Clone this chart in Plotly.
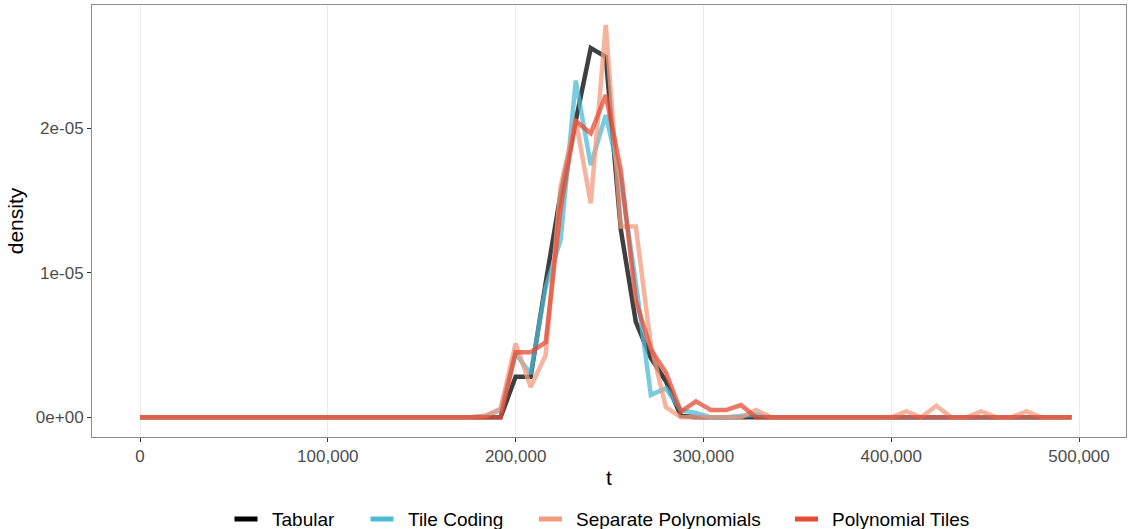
import numpy as np
import plotly.graph_objects as go

# Frequency-polygon densities over t (bin width 8,000), values in units of 1e-6
bin_width = 8000
t = np.arange(63) * bin_width

tabular = [0] * 25 + [2.8, 2.8, 9.3, 15.5, 20.5, 25.55, 24.95, 13.0, 6.6, 4.1, 2.5, 0.1] + [0] * 26

tile_coding = ([0] * 23 + [0.1, 0.5, 4.4, 3.0, 9.0, 12.3, 23.3, 17.45, 20.9, 16.4, 9.3,
                            1.55, 2.0, 0.5, 0.3, 0, 0, 0.1, 0.2] + [0] * 21)

separate_polynomials = ([0] * 23 + [0.1, 0.6, 5.1, 2.1, 4.3, 16.0, 20.6, 14.8, 27.15, 13.2, 13.2,
                                     5.0, 0.7, 0, 0, 0, 0, 0, 0.5, 0, 0, 0, 0, 0, 0, 0, 0, 0,
                                     0.4, 0, 0.8, 0, 0, 0.4, 0, 0, 0.4, 0, 0, 0])

polynomial_tiles = ([0] * 25 + [4.5, 4.5, 5.2, 14.5, 20.5, 19.65, 22.3, 17.1, 8.1, 4.7, 3.1,
                                 0.4, 1.1, 0.5, 0.5, 0.85] + [0] * 22)

series = [
    ("Tabular", tabular, "#000000"),
    ("Tile Coding", tile_coding, "#4DBBD5"),
    ("Separate Polynomials", separate_polynomials, "#F39B7F"),
    ("Polynomial Tiles", polynomial_tiles, "#E64B35"),
]

x_ticks = [0, 100000, 200000, 300000, 400000, 500000]
x_tick_text = ["0", "100,000", "200,000", "300,000", "400,000", "500,000"]
y_ticks = [0, 1e-5, 2e-5]
y_tick_text = ["0e+00", "1e-05", "2e-05"]

FONT = "Liberation Sans, Arial, sans-serif"
W, H = 1130, 529
M_L, M_R, M_T, M_B = 92, 4, 5, 92
PW, PH = W - M_L - M_R, H - M_T - M_B


def px_to_paper_x(px):
    return (px - M_L) / PW


def px_to_paper_y(py):
    return (H - M_B - py) / PH


fig = go.Figure()

for name, vals, color in series:
    fig.add_trace(go.Scatter(
        x=t, y=np.array(vals) * 1e-6, mode="lines", name=name,
        line=dict(color=color, width=4.5), opacity=0.75,
        showlegend=False,
    ))

# Legend row below the panel: key segment + label for each series
legend_y = 519
key_left = [234.5, 370.5, 539, 795]
key_len = 23
text_gap = 12
for (name, _, color), kx in zip(series, key_left):
    fig.add_shape(
        type="line", xref="paper", yref="paper",
        x0=px_to_paper_x(kx), x1=px_to_paper_x(kx + key_len),
        y0=px_to_paper_y(legend_y), y1=px_to_paper_y(legend_y),
        line=dict(color=color, width=5),
    )
    fig.add_annotation(
        xref="paper", yref="paper",
        x=px_to_paper_x(kx + key_len + text_gap), y=px_to_paper_y(legend_y),
        xanchor="left", yanchor="middle", showarrow=False,
        text=name, font=dict(size=19, color="black", family=FONT),
    )

fig.update_layout(
    width=W, height=H,
    margin=dict(l=M_L, r=M_R, t=M_T, b=M_B, autoexpand=False),
    paper_bgcolor="white", plot_bgcolor="white",
    font=dict(family=FONT, color="black"),
    showlegend=False,
)

fig.update_xaxes(
    range=[-25560, 525000],
    tickvals=x_ticks, ticktext=x_tick_text,
    tickfont=dict(size=17, color="#4d4d4d"),
    ticks="outside", ticklen=4, tickcolor="#333333", tickwidth=1,
    showgrid=True, gridcolor="#ebebeb", gridwidth=1,
    showline=True, linecolor="#8c8c8c", linewidth=1, mirror=True,
    zeroline=False, automargin=False,
    title=dict(text="t", font=dict(size=21, color="black"), standoff=4),
)

fig.update_yaxes(
    range=[-1.363e-6, 2.853e-5],
    tickvals=y_ticks, ticktext=y_tick_text,
    tickfont=dict(size=17, color="#4d4d4d"),
    ticks="outside", ticklen=4, tickcolor="#333333", tickwidth=1,
    showgrid=False,
    showline=True, linecolor="#8c8c8c", linewidth=1, mirror=True,
    zeroline=False, automargin=False,
    title=dict(text="density", font=dict(size=21, color="black"), standoff=6),
)

fig.write_html("out.html")
